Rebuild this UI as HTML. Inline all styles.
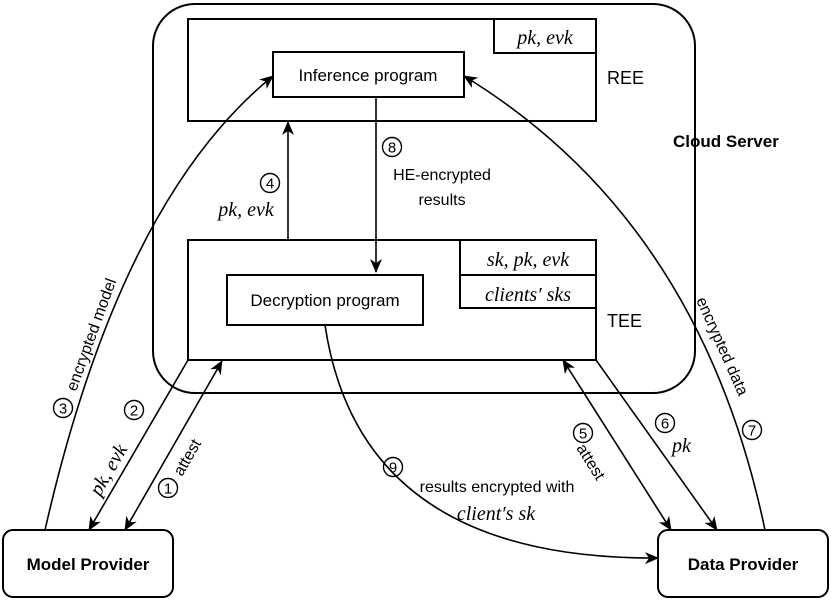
<!DOCTYPE html>
<html><head><meta charset="utf-8"><style>
html,body{margin:0;padding:0;background:#fff}
svg{display:block}
text{font-family:"Liberation Sans",sans-serif;fill:#000}
.m{font-family:"Liberation Serif",serif;font-style:italic}
.c circle{fill:none;stroke:#000;stroke-width:1.4}
.c text{font-size:15px;text-anchor:middle}
</style></head><body>
<svg width="831" height="604" viewBox="0 0 831 604" xmlns="http://www.w3.org/2000/svg">
<defs>
<marker id="a" markerWidth="14" markerHeight="14" refX="13" refY="6" orient="auto-start-reverse" markerUnits="userSpaceOnUse"><path d="M0,0 L14,6 L0,12 L4,6 Z" fill="#000"/></marker>
</defs>
<g fill="none" stroke="#000" stroke-width="2">
<rect x="153" y="4" width="542" height="389" rx="42"/>
<rect x="188" y="19" width="408" height="102" fill="#fff"/>
<rect x="494" y="19" width="102" height="34"/>
<rect x="273" y="52" width="191" height="45"/>
<rect x="188" y="240" width="408" height="120" fill="#fff"/>
<rect x="460" y="240" width="136" height="68"/>
<line x1="460" y1="275" x2="596" y2="275"/>
<rect x="227" y="275" width="196" height="50"/>
<rect x="3" y="530" width="170" height="67" rx="10"/>
<rect x="658" y="530" width="170" height="67" rx="10"/>
</g>
<g fill="none" stroke="#000" stroke-width="1.6">
<line x1="288" y1="240" x2="288" y2="122" marker-end="url(#a)"/>
<line x1="376" y1="97" x2="376" y2="272" marker-end="url(#a)"/>
<path d="M45,530 Q120,200 273,76" marker-end="url(#a)"/>
<path d="M765,530 Q700,220 464,76" marker-end="url(#a)"/>
<line x1="188" y1="360" x2="89" y2="530" marker-end="url(#a)"/>
<line x1="222" y1="361" x2="125" y2="530" marker-start="url(#a)" marker-end="url(#a)"/>
<line x1="563" y1="360" x2="671" y2="530" marker-start="url(#a)" marker-end="url(#a)"/>
<line x1="596" y1="360" x2="717" y2="530" marker-end="url(#a)"/>
<path d="M325,325 Q360,560 658,558" marker-end="url(#a)"/>
</g>
<text x="368" y="81" font-size="17" text-anchor="middle">Inference program</text>
<text x="325" y="306" font-size="17" text-anchor="middle">Decryption program</text>
<text x="545" y="44" font-size="20" class="m" text-anchor="middle">pk, evk</text>
<text x="528" y="266" font-size="20" class="m" text-anchor="middle">sk, pk, evk</text>
<text x="528" y="301" font-size="20" class="m" text-anchor="middle">clients′ sks</text>
<text x="607" y="84" font-size="18">REE</text>
<text x="607" y="327" font-size="18">TEE</text>
<text x="673" y="147" font-size="17" font-weight="bold">Cloud Server</text>
<text x="88" y="570" font-size="17" font-weight="bold" text-anchor="middle">Model Provider</text>
<text x="743" y="570" font-size="17" font-weight="bold" text-anchor="middle">Data Provider</text>

<g class="c">
<circle cx="270" cy="183" r="9.5"/><text x="270" y="188.5">4</text>
<circle cx="392" cy="147" r="9.5"/><text x="392" y="152.5">8</text>
<circle cx="393" cy="467" r="9.5"/><text x="393" y="472.5">9</text>
<circle cx="63" cy="408" r="9.5"/><text x="63" y="413.5">3</text>
<circle cx="134" cy="410" r="9.5"/><text x="134" y="415.5">2</text>
<circle cx="168" cy="488" r="9.5"/><text x="168" y="493.5">1</text>
<circle cx="583" cy="433" r="9.5"/><text x="583" y="438.5">5</text>
<circle cx="665" cy="423" r="9.5"/><text x="665" y="428.5">6</text>
<circle cx="752" cy="430" r="9.5"/><text x="752" y="435.5">7</text>
</g>

<text x="246" y="216" font-size="20" class="m" text-anchor="middle">pk, evk</text>
<text x="442" y="180" font-size="16" text-anchor="middle">HE-encrypted</text>
<text x="442" y="205" font-size="16" text-anchor="middle">results</text>
<text x="497" y="492" font-size="16" text-anchor="middle">results encrypted with</text>
<text x="496" y="520" font-size="20" class="m" text-anchor="middle">client′s sk</text>
<text transform="translate(76,392) rotate(-70)" font-size="16">encrypted model</text>
<text transform="translate(100,497) rotate(-60)" font-size="20" class="m">pk, evk</text>
<text transform="translate(182,477) rotate(-60)" font-size="16">attest</text>
<text transform="translate(576,448) rotate(58)" font-size="16">attest</text>
<text x="672" y="452" font-size="20" class="m">pk</text>
<text transform="translate(696,300) rotate(66)" font-size="16">encrypted data</text>
</svg>
</body></html>
